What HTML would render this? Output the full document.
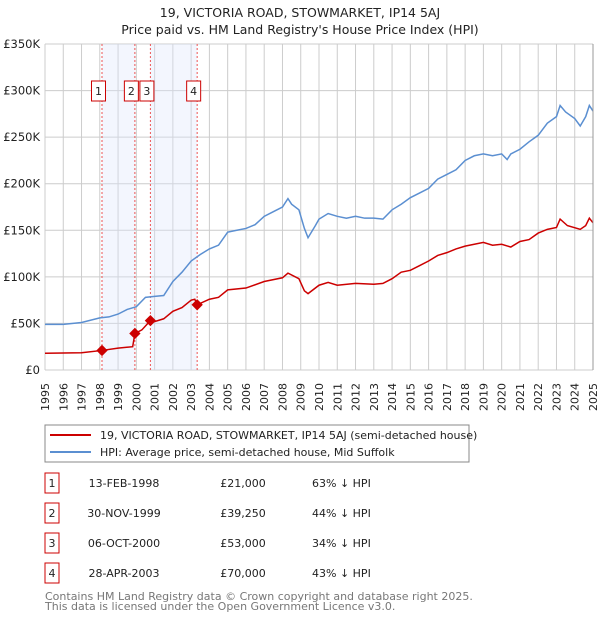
<!DOCTYPE html>
<html><head><meta charset="utf-8"><style>
body{margin:0;background:#fff;font-family:"Liberation Sans","DejaVu Sans",sans-serif;}
svg text{font-family:"DejaVu Sans","Liberation Sans",sans-serif;}
</style></head><body>
<svg id="c" width="600" height="620" xmlns="http://www.w3.org/2000/svg">
<text x="300" y="17" text-anchor="middle" font-size="12.5" fill="#222">19, VICTORIA ROAD, STOWMARKET, IP14 5AJ</text>
<text x="300" y="34" text-anchor="middle" font-size="12.5" fill="#222">Price paid vs. HM Land Registry's House Price Index (HPI)</text>
<g id="grid"></g><g id="shade"></g><g id="series"></g><g id="axes"></g>
<rect x="45" y="425" width="424" height="37" fill="#fff" stroke="#888"/>
<line x1="50" y1="435" x2="91" y2="435" stroke="#cc0000" stroke-width="2"/>
<text x="100" y="439" font-size="11" fill="#222">19, VICTORIA ROAD, STOWMARKET, IP14 5AJ (semi-detached house)</text>
<line x1="50" y1="452" x2="91" y2="452" stroke="#5b8fd1" stroke-width="2"/>
<text x="100" y="456" font-size="11" fill="#222">HPI: Average price, semi-detached house, Mid Suffolk</text>
<g id="table"></g>
<text x="45" y="600" font-size="11" fill="#777">Contains HM Land Registry data © Crown copyright and database right 2025.</text>
<text x="45" y="610" font-size="11" fill="#777">This data is licensed under the Open Government Licence v3.0.</text>
</svg>
<script>
const yTicks=[0,50000,100000,150000,200000,250000,300000,350000];
const yTickLabels=["£0","£50K","£100K","£150K","£200K","£250K","£300K","£350K"];
const years=[1995,1996,1997,1998,1999,2000,2001,2002,2003,2004,2005,2006,2007,2008,2009,2010,2011,2012,2013,2014,2015,2016,2017,2018,2019,2020,2021,2022,2023,2024,2025];
const hpiT=[1995,1996,1997,1998,1998.5,1999,1999.5,2000,2000.5,2001,2001.5,2002,2002.5,2003,2003.5,2004,2004.5,2005,2005.5,2006,2006.5,2007,2007.5,2008,2008.3,2008.5,2008.9,2009.2,2009.4,2009.8,2010,2010.5,2011,2011.5,2012,2012.5,2013,2013.5,2014,2014.5,2015,2015.5,2016,2016.5,2017,2017.5,2018,2018.5,2019,2019.5,2020,2020.3,2020.5,2021,2021.5,2022,2022.5,2023,2023.2,2023.5,2024,2024.3,2024.6,2024.8,2025];
const hpiV=[49,49,51,56,57,60,65,68,78,79,80,95,105,117,124,130,134,148,150,152,156,165,170,175,184,178,172,152,142,155,162,168,165,163,165,163,163,162,172,178,185,190,195,205,210,215,225,230,232,230,232,226,232,237,245,252,265,272,284,277,270,262,272,284,278];
const ppT=[1995,1997,1998.12,1999,1999.8,1999.92,2000.3,2000.77,2001,2001.5,2002,2002.5,2003,2003.2,2003.33,2004,2004.5,2005,2006,2007,2008,2008.3,2008.9,2009.2,2009.4,2010,2010.5,2011,2012,2013,2013.5,2014,2014.5,2015,2015.5,2016,2016.5,2017,2017.5,2018,2019,2019.5,2020,2020.5,2021,2021.5,2022,2022.5,2023,2023.2,2023.6,2024.3,2024.6,2024.8,2025];
const ppV=[18,18.5,21,23.5,25,39.25,43,53,52,55,63,67,75,76,70,76,78,86,88,95,99,104,98,85,82,91,94,91,93,92,93,98,105,107,112,117,123,126,130,133,137,134,135,132,138,140,147,151,153,162,155,151,155,163,158];
const saleT=[1998.12,1999.92,2000.77,2003.33];
const saleV=[21000,39250,53000,70000];
const saleLabels=["1","2","3","4"];
const saleDates=["13-FEB-1998","30-NOV-1999","06-OCT-2000","28-APR-2003"];
const salePrices=["£21,000","£39,250","£53,000","£70,000"];
const saleHpi=["63% ↓ HPI","44% ↓ HPI","34% ↓ HPI","43% ↓ HPI"];

const NS="http://www.w3.org/2000/svg";
const X0=45,X1=593,Y0=370,Y1=44;
const xs=t=>X0+(t-1995)/30*(X1-X0);
const ys=v=>Y0-v/350000*(Y0-Y1);
function mk(tag,at,parent){const e=document.createElementNS(NS,tag);for(const k in at)e.setAttribute(k,at[k]);parent.appendChild(e);return e;}
const G=document.getElementById('grid'),S=document.getElementById('shade'),R=document.getElementById('series'),A=document.getElementById('axes'),T=document.getElementById('table');
mk('rect',{x:X0,y:Y1,width:X1-X0,height:Y0-Y1,fill:'#fff'},G);
years.forEach(y=>{const l=mk('line',{x1:xs(y),x2:xs(y),y1:Y1,y2:Y0,stroke:'#ccc','stroke-width':1},G);


const t=mk('text',{x:0,y:0,'font-size':11,fill:'#222','text-anchor':'end',transform:`translate(${xs(y)+4},${Y0+13}) rotate(-90)`},A);t.textContent=y;

});
yTicks.forEach((v,i)=>{const l=mk('line',{x1:X0,x2:X1,y1:ys(v),y2:ys(v),stroke:'#ccc','stroke-width':1},G);


const t=mk('text',{x:X0-5,y:ys(v)+4,'font-size':11.5,fill:'#222','text-anchor':'end'},A);t.textContent=yTickLabels[i];

});
// shaded periods between sales 1-2 and 3-4
[[0,1],[2,3]].forEach(p=>{const r=mk('rect',{x:xs(saleT[p[0]]),y:Y1,width:xs(saleT[p[1]])-xs(saleT[p[0]]),height:Y0-Y1,fill:'#dde6fb','fill-opacity':0.35},S);

});
saleT.forEach((t,i)=>{const l=mk('line',{x1:xs(t),x2:xs(t),y1:Y1,y2:Y0,stroke:'#e55','stroke-width':1,'stroke-dasharray':'2,2'},S);


const cx=xs(t)-3.5;
const b=mk('rect',{x:cx-7,y:81,width:14,height:20,fill:'#fff',stroke:'#c00'},S);


const tx=mk('text',{x:cx,y:95,'font-size':11,fill:'#222','text-anchor':'middle'},S);tx.textContent=saleLabels[i];

});
const hp=mk('polyline',{points:hpiT.map((t,i)=>xs(t)+','+ys(hpiV[i]*1000)).join(' '),fill:'none',stroke:'#5b8fd1','stroke-width':1.5},R);


const pp=mk('polyline',{points:ppT.map((t,i)=>xs(t)+','+ys(ppV[i]*1000)).join(' '),fill:'none',stroke:'#cc0000','stroke-width':1.5},R);


saleT.forEach((t,i)=>{const d=mk('rect',{x:xs(t)-4,y:ys(saleV[i])-4,width:8,height:8,fill:'#cc0000',transform:`rotate(45 ${xs(t)} ${ys(saleV[i])})`},R);

});
mk('line',{x1:X1,x2:X1,y1:Y1,y2:Y0,stroke:'#999'},A);
saleT.forEach((t,i)=>{const y=483+30*i;
const b=mk('rect',{x:45,y:y-10,width:14,height:20,fill:'#fff',stroke:'#c00'},T);


const vals=[[52,saleLabels[i],'middle'],[124,saleDates[i],'middle'],[243,salePrices[i],'middle'],[312,saleHpi[i],'start']];
vals.forEach(v=>{const e=mk('text',{x:v[0],y:y+4,'font-size':11,fill:'#222','text-anchor':v[2]},T);e.textContent=v[1];

});});
</script>
</body></html>
